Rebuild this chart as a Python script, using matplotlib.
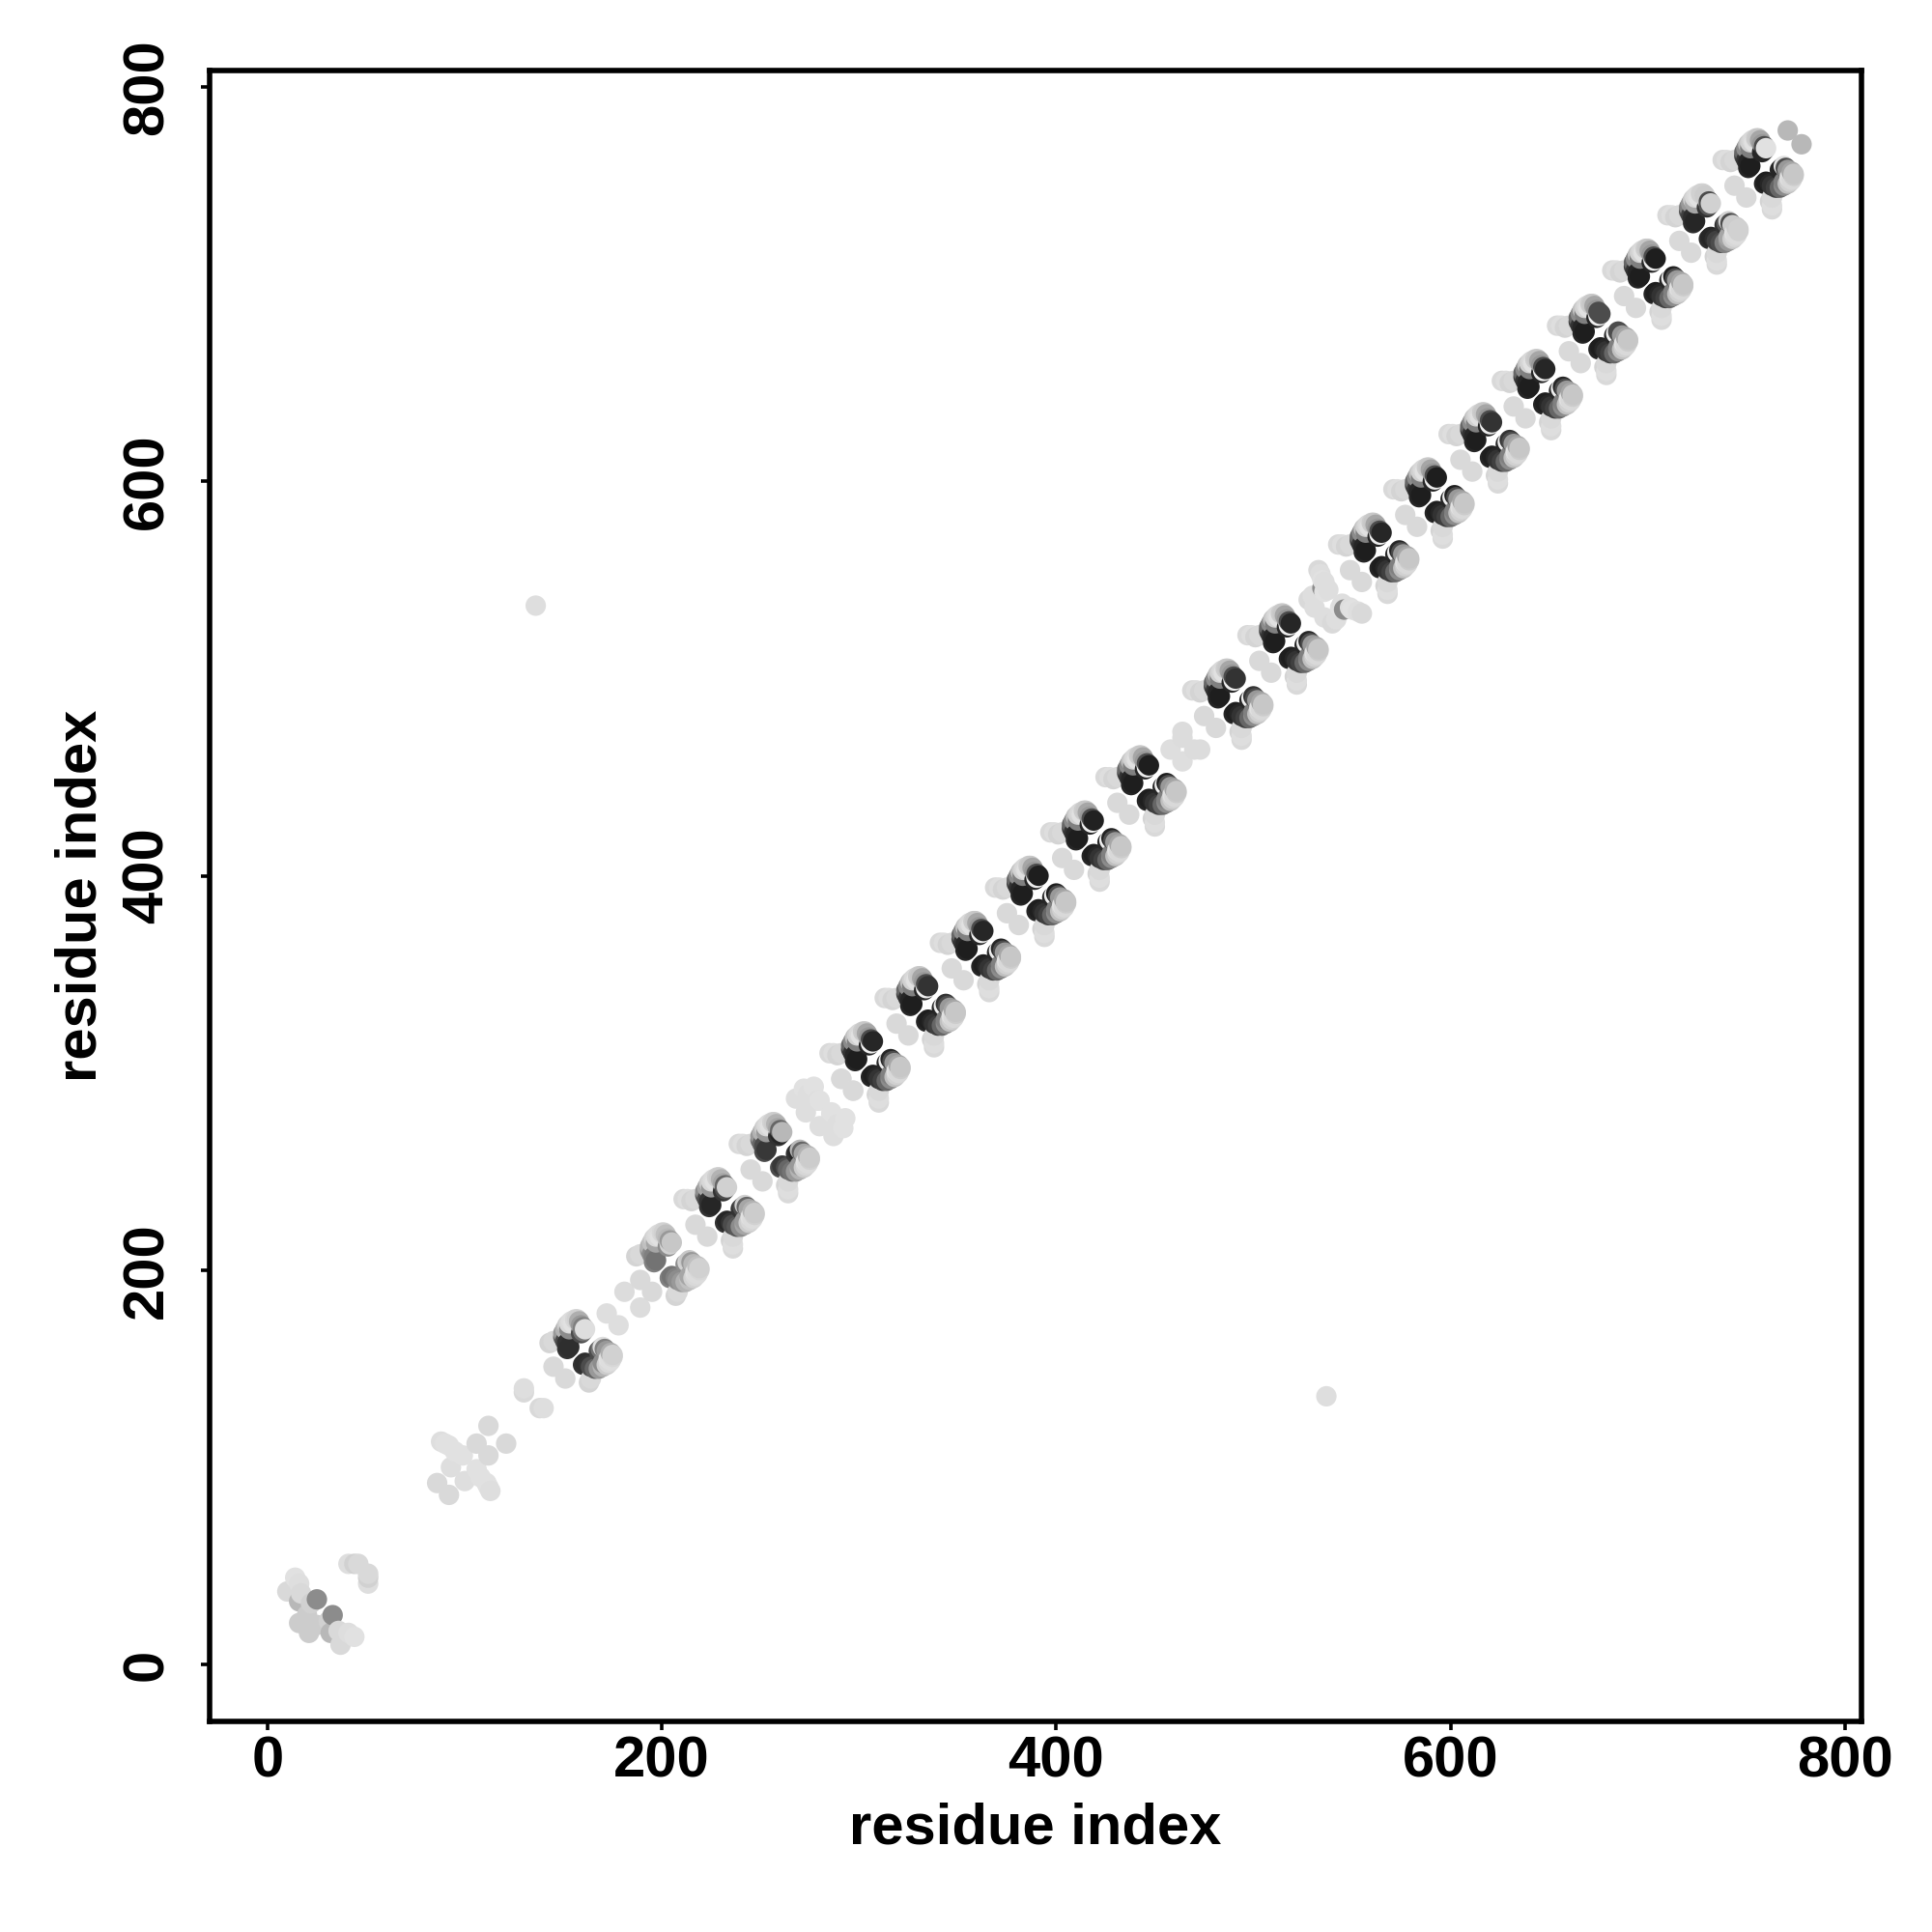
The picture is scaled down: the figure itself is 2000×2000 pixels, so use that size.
import numpy as np
import matplotlib
matplotlib.use('Agg')
import matplotlib.pyplot as plt

plt.rcParams['font.family'] = ['Liberation Sans', 'DejaVu Sans']
plt.rcParams['font.weight'] = 'bold'

# contacts, upper half only: the map is symmetric so the lower half comes from swapping i and j
res_i = [
    136,
    10, 13, 14, 16, 16, 16, 17, 20, 22, 25, 41, 44, 46,
    86, 88, 90, 92, 93, 95, 99, 106, 112, 130, 130,
    143, 145, 145, 150, 151, 152, 152, 153, 150, 151, 152, 153, 153, 154, 155, 156, 157, 158, 159, 159, 160, 160, 161,
    172, 181,
    187, 189, 189, 194, 195, 196, 196, 197, 194, 195, 196, 197, 197, 198, 199, 200, 201, 202, 203, 203, 204, 204, 205,
    211, 213, 215, 217, 217, 222, 223, 224, 224, 225, 222, 223, 224, 225, 225, 226, 227, 228, 229, 230, 231, 231, 232, 232, 233,
    239, 241, 243, 245, 245, 250, 251, 252, 252, 253, 250, 251, 252, 253, 253, 254, 255, 256, 257, 258, 259, 259, 260, 260, 261,
    268, 272, 273, 277, 279, 280, 274, 291,
    285, 287, 289, 291, 291, 296, 297, 298, 298, 299, 296, 297, 298, 299, 299, 300, 301, 302, 303, 304, 305, 305, 306, 306, 307,
    313, 315, 317, 319, 319, 324, 325, 326, 326, 327, 324, 325, 326, 327, 327, 328, 329, 330, 331, 332, 333, 333, 334, 334, 335,
    341, 343, 345, 347, 347, 352, 353, 354, 354, 355, 352, 353, 354, 355, 355, 356, 357, 358, 359, 360, 361, 361, 362, 362, 363,
    369, 371, 373, 375, 375, 380, 381, 382, 382, 383, 380, 381, 382, 383, 383, 384, 385, 386, 387, 388, 389, 389, 390, 390, 391,
    397, 399, 401, 403, 403, 408, 409, 410, 410, 411, 408, 409, 410, 411, 411, 412, 413, 414, 415, 416, 417, 417, 418, 418, 419,
    425, 427, 429, 431, 431, 436, 437, 438, 438, 439, 436, 437, 438, 439, 439, 440, 441, 442, 443, 444, 445, 445, 446, 446, 447,
    458, 464, 464,
    469, 471, 473, 475, 475, 480, 481, 482, 482, 483, 480, 481, 482, 483, 483, 484, 485, 486, 487, 488, 489, 489, 490, 490, 491,
    497, 499, 501, 503, 503, 508, 509, 510, 510, 511, 508, 509, 510, 511, 511, 512, 513, 514, 515, 516, 517, 517, 518, 518, 519,
    528, 530, 531, 533, 534, 535, 535, 536, 538, 536,
    543, 545, 547, 549, 549, 554, 555, 556, 556, 557, 554, 555, 556, 557, 557, 558, 559, 560, 561, 562, 563, 563, 564, 564, 565,
    571, 573, 575, 577, 577, 582, 583, 584, 584, 585, 582, 583, 584, 585, 585, 586, 587, 588, 589, 590, 591, 591, 592, 592, 593,
    599, 601, 603, 605, 605, 610, 611, 612, 612, 613, 610, 611, 612, 613, 613, 614, 615, 616, 617, 618, 619, 619, 620, 620, 621,
    626, 628, 630, 632, 632, 637, 638, 639, 639, 640, 637, 638, 639, 640, 640, 641, 642, 643, 644, 645, 646, 646, 647, 647, 648,
    654, 656, 658, 660, 660, 665, 666, 667, 667, 668, 665, 666, 667, 668, 668, 669, 670, 671, 672, 673, 674, 674, 675, 675, 676,
    682, 684, 686, 688, 688, 693, 694, 695, 695, 696, 693, 694, 695, 696, 696, 697, 698, 699, 700, 701, 702, 702, 703, 703, 704,
    710, 712, 714, 716, 716, 721, 722, 723, 723, 724, 721, 722, 723, 724, 724, 725, 726, 727, 728, 729, 730, 730, 731, 731, 732,
    738, 740, 742, 744, 744, 749, 750, 751, 751, 752, 749, 750, 751, 752, 752, 753, 754, 755, 756, 757, 758, 758, 759, 759, 760,
    771,
]
res_j = [
    537,
    37, 38, 44, 41, 32, 21, 36, 25, 31, 33, 51, 51, 51,
    92, 113, 112, 111, 100, 108, 106, 112, 121, 138, 140,
    163, 164, 151, 166, 164, 163, 160, 161, 168, 170, 172, 170, 173, 174, 173, 175, 175, 174, 172, 168, 171, 169, 170,
    178, 189,
    207, 208, 195, 210, 208, 207, 204, 205, 212, 214, 216, 214, 217, 218, 217, 219, 219, 218, 216, 212, 215, 213, 214,
    236, 236, 235, 236, 223, 238, 236, 235, 232, 233, 240, 242, 244, 242, 245, 246, 245, 247, 247, 246, 244, 240, 243, 241, 242,
    264, 264, 263, 264, 251, 266, 264, 263, 260, 261, 268, 270, 272, 270, 273, 274, 273, 275, 275, 274, 272, 268, 271, 269, 270,
    287, 292, 280, 293, 286, 286, 289, 297,
    310, 310, 309, 310, 297, 312, 310, 309, 306, 307, 314, 316, 318, 316, 319, 320, 319, 321, 321, 320, 318, 314, 317, 315, 316,
    338, 338, 337, 338, 325, 340, 338, 337, 334, 335, 342, 344, 346, 344, 347, 348, 347, 349, 349, 348, 346, 342, 345, 343, 344,
    366, 366, 365, 366, 353, 368, 366, 365, 362, 363, 370, 372, 374, 372, 375, 376, 375, 377, 377, 376, 374, 370, 373, 371, 372,
    394, 394, 393, 394, 381, 396, 394, 393, 390, 391, 398, 400, 402, 400, 403, 404, 403, 405, 405, 404, 402, 398, 401, 399, 400,
    422, 422, 421, 422, 409, 424, 422, 421, 418, 419, 426, 428, 430, 428, 431, 432, 431, 433, 433, 432, 430, 426, 429, 427, 428,
    450, 450, 449, 450, 437, 452, 450, 449, 446, 447, 454, 456, 458, 456, 459, 460, 459, 461, 461, 460, 458, 454, 457, 455, 456,
    464, 470, 473,
    494, 494, 493, 494, 481, 496, 494, 493, 490, 491, 498, 500, 502, 500, 503, 504, 503, 505, 505, 504, 502, 498, 501, 499, 500,
    522, 522, 521, 522, 509, 524, 522, 521, 518, 519, 526, 528, 530, 528, 531, 532, 531, 533, 533, 532, 530, 526, 529, 527, 528,
    540, 542, 536, 555, 553, 546, 550, 544, 545, 549,
    568, 568, 567, 568, 555, 570, 568, 567, 564, 565, 572, 574, 576, 574, 577, 578, 577, 579, 579, 578, 576, 572, 575, 573, 574,
    596, 596, 595, 596, 583, 598, 596, 595, 592, 593, 600, 602, 604, 602, 605, 606, 605, 607, 607, 606, 604, 600, 603, 601, 602,
    624, 624, 623, 624, 611, 626, 624, 623, 620, 621, 628, 630, 632, 630, 633, 634, 633, 635, 635, 634, 632, 628, 631, 629, 630,
    651, 651, 650, 651, 638, 653, 651, 650, 647, 648, 655, 657, 659, 657, 660, 661, 660, 662, 662, 661, 659, 655, 658, 656, 657,
    679, 679, 678, 679, 666, 681, 679, 678, 675, 676, 683, 685, 687, 685, 688, 689, 688, 690, 690, 689, 687, 683, 686, 684, 685,
    707, 707, 706, 707, 694, 709, 707, 706, 703, 704, 711, 713, 715, 713, 716, 717, 716, 718, 718, 717, 715, 711, 714, 712, 713,
    735, 735, 734, 735, 722, 737, 735, 734, 731, 732, 739, 741, 743, 741, 744, 745, 744, 746, 746, 745, 743, 739, 742, 740, 741,
    763, 763, 762, 763, 750, 765, 763, 762, 759, 760, 767, 769, 771, 769, 772, 773, 772, 774, 774, 773, 771, 767, 770, 768, 769,
    778,
]
shade = [
    .87,
    .85, .85, .88, .87, .72, .8, .85, .8, .82, .55, .87, .82, .85,
    .85, .87, .88, .88, .87, .88, .88, .85, .85, .85, .87,
    .83, .85, .85, .4, .3, .2, .2, .18, .6, .7, .8, .55, .85, .87, .88, .84, .82, .68, .6, .3, .5, .45, .87,
    .87, .86,
    .83, .85, .85, .6, .55, .5, .5, .45, .7, .75, .82, .65, .85, .86, .88, .84, .82, .75, .72, .55, .6, .82, .78,
    .85, .87, .83, .85, .85, .35, .3, .2, .2, .15, .55, .65, .8, .6, .84, .86, .88, .82, .8, .7, .65, .2, .4, .3, .82,
    .85, .87, .83, .85, .85, .45, .4, .3, .3, .22, .6, .7, .8, .6, .84, .86, .88, .82, .8, .7, .65, .2, .4, .15, .72,
    .87, .88, .87, .88, .87, .88, .87, .87,
    .85, .87, .83, .85, .85, .25, .2, .15, .15, .12, .4, .55, .75, .5, .82, .85, .88, .8, .78, .65, .6, .15, .3, .93, .15,
    .85, .87, .83, .85, .85, .25, .2, .15, .15, .12, .4, .55, .75, .5, .82, .85, .88, .8, .78, .65, .6, .15, .3, .93, .2,
    .85, .87, .83, .85, .85, .25, .2, .15, .15, .12, .4, .55, .75, .5, .82, .85, .88, .8, .78, .65, .6, .15, .3, .93, .15,
    .85, .87, .83, .85, .85, .25, .2, .15, .15, .12, .4, .55, .75, .5, .82, .85, .88, .8, .78, .65, .6, .15, .3, .93, .12,
    .85, .87, .83, .85, .85, .25, .2, .15, .15, .12, .4, .55, .75, .5, .82, .85, .88, .8, .78, .65, .6, .15, .3, .93, .13,
    .85, .87, .83, .85, .85, .25, .2, .15, .15, .12, .4, .55, .75, .5, .82, .85, .88, .8, .78, .65, .6, .15, .3, .93, .12,
    .87, .86, .86,
    .85, .87, .83, .85, .85, .25, .2, .15, .15, .12, .4, .55, .75, .5, .82, .85, .88, .8, .78, .65, .6, .15, .3, .93, .2,
    .85, .87, .83, .85, .85, .25, .2, .15, .15, .12, .4, .55, .75, .5, .82, .85, .88, .8, .78, .65, .6, .15, .3, .93, .15,
    .85, .87, .87, .85, .87, .55, .88, .88, .87, .87,
    .85, .87, .83, .85, .85, .25, .2, .15, .15, .12, .4, .55, .75, .5, .82, .85, .88, .8, .78, .65, .6, .15, .3, .93, .15,
    .85, .87, .83, .85, .85, .25, .2, .15, .15, .12, .4, .55, .75, .5, .82, .85, .88, .8, .78, .65, .6, .15, .3, .93, .12,
    .85, .87, .83, .85, .85, .25, .2, .15, .15, .12, .4, .55, .75, .5, .82, .85, .88, .8, .78, .65, .6, .15, .3, .93, .2,
    .85, .87, .83, .85, .85, .25, .2, .15, .15, .12, .4, .55, .75, .5, .82, .85, .88, .8, .78, .65, .6, .15, .3, .93, .15,
    .85, .87, .83, .85, .85, .25, .2, .15, .15, .12, .4, .55, .75, .5, .82, .85, .88, .8, .78, .65, .6, .15, .3, .93, .3,
    .85, .87, .83, .85, .85, .25, .2, .15, .15, .12, .4, .55, .75, .5, .82, .85, .88, .8, .78, .65, .6, .15, .3, .93, .12,
    .85, .87, .83, .85, .85, .3, .25, .18, .18, .15, .5, .6, .8, .65, .84, .86, .88, .82, .82, .8, .8, .2, .3, .35, .82,
    .85, .87, .83, .85, .85, .25, .2, .15, .15, .12, .4, .55, .75, .5, .82, .85, .88, .8, .78, .65, .6, .15, .3, .15, .88,
    .72,
]
tick_vals = [0, 200, 400, 600, 800]

x = np.array(res_i + res_j)
y = np.array(res_j + res_i)
g = np.array(shade + shade)
# drawn by increasing x, so later residues sit on top
order = np.lexsort((y, x))

fig = plt.figure(figsize=(10, 10), dpi=200)
ax = fig.add_axes([217/2000, 1-1782/2000, 1710/2000, 1709/2000])
ax.scatter(x[order], y[order], c=g[order], cmap='gray', vmin=0, vmax=1, s=58, linewidths=0)
ax.set_xlim(-29.4, 808.4)
ax.set_ylim(-28.9, 808.4)
ax.set_xticks(tick_vals)
ax.set_yticks(tick_vals)
ax.tick_params(axis='x', labelsize=21.5, width=1.3, length=3.2, pad=2)
ax.tick_params(axis='y', labelsize=21.5, width=1.3, length=3.2, pad=10)
plt.setp(ax.get_yticklabels(), rotation=90, va='center')
ax.set_xlabel('residue index', fontsize=21.5, fontweight='bold', labelpad=5)
ax.set_ylabel('residue index', fontsize=21.5, fontweight='bold', labelpad=5)
for s in ax.spines.values():
    s.set_linewidth(2.0)
fig.savefig('out.png', dpi=200)
